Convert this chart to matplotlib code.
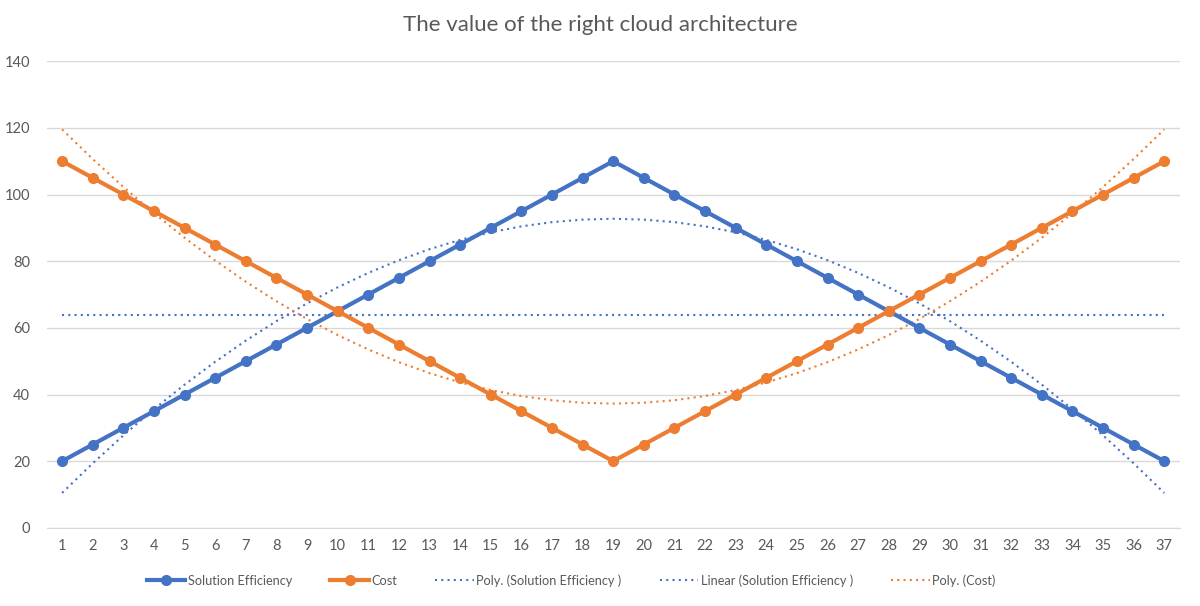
import numpy as np
import matplotlib
matplotlib.use("Agg")
import matplotlib.pyplot as plt

# Data
periods = np.arange(1, 38)
efficiency = [20, 25, 30, 35, 40, 45, 50, 55, 60, 65, 70, 75, 80, 85, 90, 95,
              100, 105, 110, 105, 100, 95, 90, 85, 80, 75, 70, 65, 60, 55, 50,
              45, 40, 35, 30, 25, 20]
cost = [110, 105, 100, 95, 90, 85, 80, 75, 70, 65, 60, 55, 50, 45, 40, 35,
        30, 25, 20, 25, 30, 35, 40, 45, 50, 55, 60, 65, 70, 75, 80, 85, 90,
        95, 100, 105, 110]
y_ticks = [0, 20, 40, 60, 80, 100, 120, 140]

blue = "#4472C4"
orange = "#ED7D31"
text_col = "#595959"

plt.rcParams["font.family"] = ["Lato", "DejaVu Sans"]

# Trendlines (least squares fits, as Excel does)
eff_poly = np.polyval(np.polyfit(periods, efficiency, 2), periods)
eff_lin = np.polyval(np.polyfit(periods, efficiency, 1), periods)
cost_poly = np.polyval(np.polyfit(periods, cost, 2), periods)

fig = plt.figure(figsize=(12, 6.06), dpi=100)
ax = fig.add_axes([0.039, 0.129, 0.944, 0.770])

ax.plot(periods, efficiency, color=blue, lw=3, marker="o", ms=7,
        label="Solution Efficiency", zorder=4)
ax.plot(periods, cost, color=orange, lw=3, marker="o", ms=7,
        label="Cost", zorder=4)
ax.plot(periods, eff_poly, color=blue, lw=1.5, ls=(0, (1, 2)),
        label="Poly. (Solution Efficiency )", zorder=3)
ax.plot(periods, eff_lin, color=blue, lw=1.5, ls=(0, (1, 2)),
        label="Linear (Solution Efficiency )", zorder=3)
ax.plot(periods, cost_poly, color=orange, lw=1.5, ls=(0, (1, 2)),
        label="Poly. (Cost)", zorder=3)

ax.set_xlim(0.5, 37.5)
ax.set_ylim(0, 140)
ax.set_yticks(y_ticks)
ax.set_xticks(periods)
ax.grid(axis="y", color="#D9D9D9", lw=1)
ax.set_axisbelow(True)
for s in ["top", "right", "left"]:
    ax.spines[s].set_visible(False)
ax.spines["bottom"].set_color("#D9D9D9")
ax.tick_params(axis="both", length=0, colors=text_col, labelsize=10.5)
ax.tick_params(axis="y", pad=12)
ax.tick_params(axis="x", pad=8)

fig.suptitle("The value of the right cloud architecture", y=0.975,
             fontsize=16, color=text_col)

ax.legend(loc="upper center", bbox_to_anchor=(0.463, -0.075), ncol=5,
          frameon=False, fontsize=9.2, labelcolor=text_col,
          handlelength=3.0, columnspacing=3.0, handletextpad=0.2)

fig.savefig("out.png", dpi=100)
